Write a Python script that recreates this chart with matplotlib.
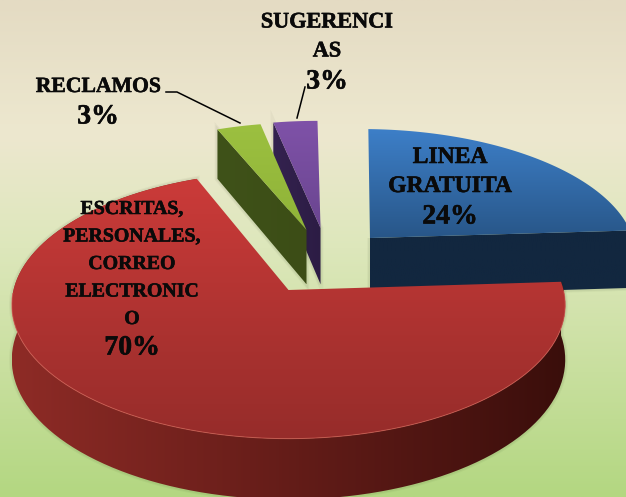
# plot.py
"""Exploded 3D-look pie chart, projected by hand onto a pixel-sized axes."""
import numpy as np
import matplotlib
matplotlib.use('Agg')
import matplotlib.pyplot as plt
import matplotlib.patheffects as pe
from matplotlib.colors import LinearSegmentedColormap
from matplotlib.patches import Polygon

# ── Data ──────────────────────────────────────────────────────────────────────
labels = ['LINEA\nGRATUITA', 'ESCRITAS,\nPERSONALES,\nCORREO\nELECTRONIC\nO',
          'RECLAMOS', 'SUGERENCI\nAS']
values = [24, 70, 3, 3]
percent_labels = ['24%', '70%', '3%', '3%']

# ── Projection config (pie plane → image pixels) ──────────────────────────────
W, H = 626, 497
CX, CY = 288.5, 290
RX, RY = 275, 132
PERSP = 0.112
DEPTH = 54
START_ANGLE = 90.0

# per-wedge offsets in the pie plane, wall height factors, trim of the first edge
offsets = [(0.31, 0.412), (0.0, 0.0), (0.069, 0.479), (0.123, 0.496)]
depth_scale = [1.12, 1.0, 1.06, 1.1]
start_trim = [1.5, 0.0, 0.0, 0.0]
draw_order = [1, 3, 2, 0]  # purple behind green, red on top

# ── Colours ───────────────────────────────────────────────────────────────────
BG_STOPS = [(0.0, '#e4dbc3'), (0.27, '#ede8cf'), (0.5, '#dde7bb'), (1.0, '#b3d781')]
TOP_COLORS = [('#3d7fc8', '#285688'), ('#cb3b39', '#962c2a'),
              ('#9cc040', '#8fb338'), ('#7f52a8', '#6a4590')]
WALL_COLORS = [('#12273f', '#12273f'), ('#8e2b26', '#3a0e0b'),
               ('#3f5219', '#3c4d16'), ('#34224f', '#2c1c44')]


def project(u, v, z=0.0):
    w = 1 + PERSP * v
    return CX + RX * u / w, CY - RY * v / w + z * DEPTH / w


def grad_fill(ax, xy, c1, c2, axis='y', z=2):
    """Fill a polygon with a linear gradient between two colours."""
    xy = np.asarray(xy)
    patch = Polygon(xy, closed=True, fc='none', ec='none', transform=ax.transData)
    ax.add_patch(patch)
    x0, x1 = xy[:, 0].min(), xy[:, 0].max()
    y0, y1 = xy[:, 1].min(), xy[:, 1].max()
    ramp = np.linspace(0, 1, 256)
    img = ramp[:, None] if axis == 'y' else ramp[None, :]
    cmap = LinearSegmentedColormap.from_list('g', [c1, c2])
    im = ax.imshow(img, extent=(x0, x1, y1, y0), cmap=cmap, aspect='auto',
                   zorder=z, interpolation='bilinear')
    im.set_clip_path(patch)


def soft_edge(ax, xy, z):
    """Faint dark halo around a wall, standing in for the blurred shadow."""
    for lw, alpha in [(4, 0.04), (2.5, 0.05)]:
        ax.add_patch(Polygon(xy, closed=True, fc='none', ec='#203010', lw=lw,
                             alpha=alpha, zorder=z - 0.5))


def draw_wedge(ax, i, theta1, theta2):
    off = offsets[i]
    t = np.radians(np.linspace(theta1 - start_trim[i], theta2, 120))
    u, v = np.cos(t) + off[0], np.sin(t) + off[1]
    top = np.column_stack(project(u, v))
    bot = np.column_stack(project(u, v, depth_scale[i]))
    apex_top = np.array(project(off[0], off[1]))
    apex_bot = np.array(project(off[0], off[1], depth_scale[i]))
    z = 2 + draw_order[i] * 3
    c1, c2 = WALL_COLORS[i]

    if i == 1:
        # red: curved outer wall
        wall = np.vstack([top, bot[::-1]])
    elif i == 0:
        # blue: cut face on its clockwise end
        wall = np.vstack([apex_top, top[-1], bot[-1], apex_bot])
    else:
        # small slices: only the cut face on the far side shows
        wall = np.vstack([top[0], apex_top, apex_bot, bot[0]])
    soft_edge(ax, wall, z)
    grad_fill(ax, wall, c1, c2, axis='x', z=z)

    c1, c2 = TOP_COLORS[i]
    grad_fill(ax, np.vstack([apex_top, top]), c1, c2, axis='y', z=z + 1)

    if i == 1:
        # thin light rim along the front of the red top face
        front = np.sin(t) < 0
        ax.plot(top[front, 0], top[front, 1], color='#d8605a', lw=0.7, alpha=0.7,
                zorder=z + 1.5)


fig = plt.figure(figsize=(W / 100, H / 100), dpi=100)
ax = fig.add_axes([0, 0, 1, 1])

# ── Background ────────────────────────────────────────────────────────────────
bg_cmap = LinearSegmentedColormap.from_list('bg', BG_STOPS)
ax.imshow(np.linspace(0, 1, 256)[:, None], extent=(0, W, H, 0), cmap=bg_cmap,
          aspect='auto', zorder=0)

# ── Wedges, clockwise from the top ────────────────────────────────────────────
angle = START_ANGLE
for i, val in enumerate(values):
    sweep = val / sum(values) * 360
    draw_wedge(ax, i, angle, angle - sweep)
    angle -= sweep

# ── Leader lines ──────────────────────────────────────────────────────────────
ax.plot([166, 177, 240], [92, 92, 123], color='black', lw=1.1, zorder=20)
ax.plot([305, 297], [87, 118], color='black', lw=1.1, zorder=20)

# ── Labels ────────────────────────────────────────────────────────────────────
text_kw = dict(ha='center', va='center', family='Liberation Serif',
               fontweight='bold', color='#0a0a0a', zorder=21,
               path_effects=[pe.withStroke(linewidth=0.4, foreground='#0a0a0a')])
name_pos = [(450, 172), (132, 264), (98, 87), (327, 37)]
pct_pos = [(450, 217), (132, 348), (98, 117), (327, 82)]
name_size = [17, 14.3, 15.6, 16]
spacing = [1.5, 1.5, 1.5, 1.6]
for name, pct, np_, pp, fs, ls in zip(labels, percent_labels, name_pos, pct_pos,
                                      name_size, spacing):
    ax.text(np_[0], np_[1], name, fontsize=fs, linespacing=ls, **text_kw)
    ax.text(pp[0], pp[1], pct, fontsize=20, **text_kw)

ax.set_xlim(0, W)
ax.set_ylim(H, 0)
ax.axis('off')

fig.savefig('out.png', dpi=100)
plt.close(fig)
